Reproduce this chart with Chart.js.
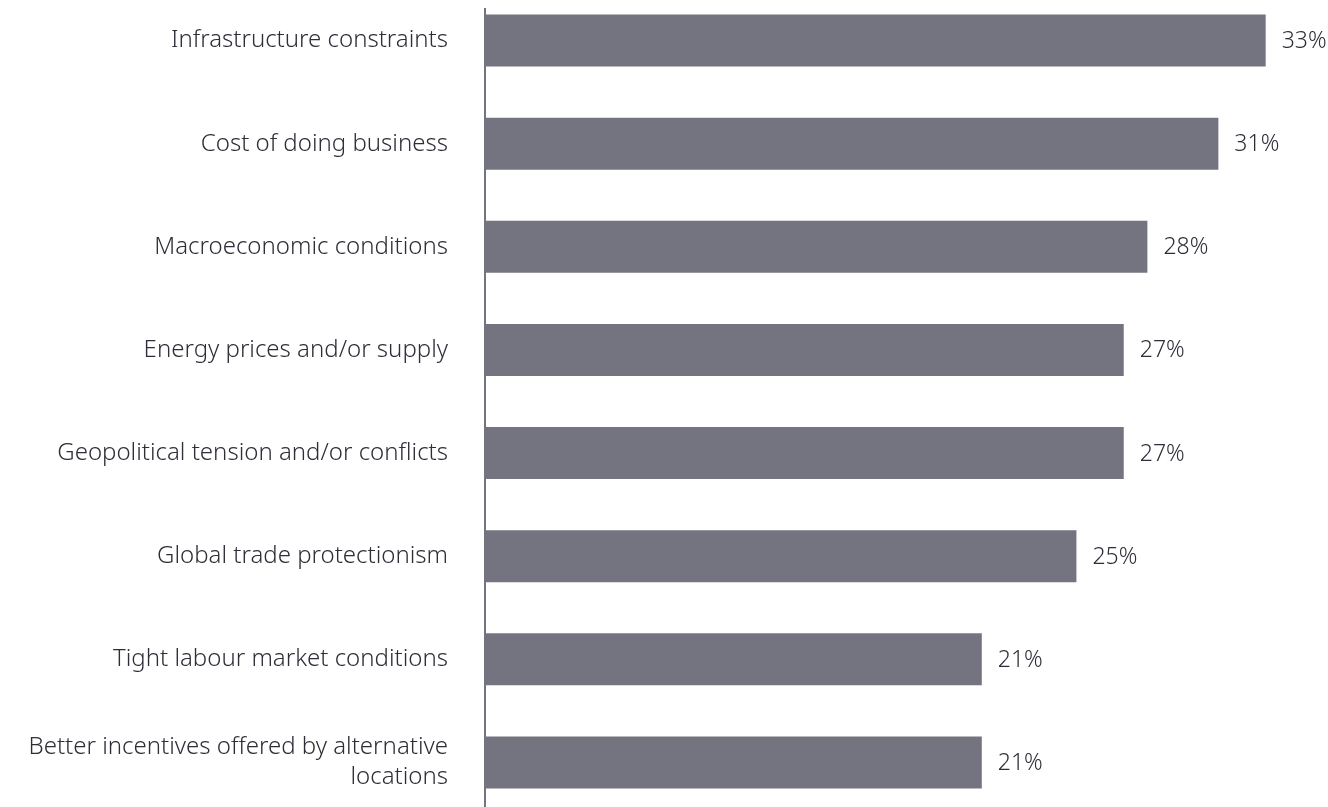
<!DOCTYPE html>
<html>
<head>
<meta charset="utf-8">
<script src="https://cdn.jsdelivr.net/npm/chart.js@4"></script>
<style>
  html, body { margin: 0; padding: 0; background: #fff; overflow: hidden; }
  #wrap { position: absolute; left: 0; top: -11px; width: 1328px; height: 825px; }
</style>
</head>
<body>
<div id="wrap"><canvas id="chart"></canvas></div>
<script>
const categories = [
  'Infrastructure constraints',
  'Cost of doing business',
  'Macroeconomic conditions',
  'Energy prices and/or supply',
  'Geopolitical tension and/or conflicts',
  'Global trade protectionism',
  'Tight labour market conditions',
  ['Better incentives offered by alternative', 'locations']
];
const values = [33, 31, 28, 27, 27, 25, 21, 21];

const barColor = '#747480';
const textColor = '#2e2e38';
const fontFamily = '"Noto Sans", sans-serif';

// value labels at the end of each bar
const valueLabels = {
  id: 'valueLabels',
  afterDatasetsDraw(chart) {
    const ctx = chart.ctx;
    const meta = chart.getDatasetMeta(0);
    ctx.save();
    ctx.font = '300 23px ' + fontFamily;
    ctx.fillStyle = textColor;
    ctx.textBaseline = 'middle';
    ctx.textAlign = 'left';
    meta.data.forEach((bar, i) => {
      ctx.fillText(values[i] + '%', bar.x + 16, bar.y + 1);
    });
    ctx.restore();
  }
};

// vertical axis line
const axisLine = {
  id: 'axisLine',
  afterDatasetsDraw(chart) {
    const { ctx, chartArea } = chart;
    ctx.save();
    ctx.strokeStyle = barColor;
    ctx.lineWidth = 2;
    ctx.beginPath();
    ctx.moveTo(chartArea.left, 19);
    ctx.lineTo(chartArea.left, chart.height);
    ctx.stroke();
    ctx.restore();
  }
};

new Chart(document.getElementById('chart'), {
  type: 'bar',
  data: {
    labels: categories,
    datasets: [{
      data: values,
      backgroundColor: barColor,
      borderWidth: 0,
      barPercentage: 1,
      categoryPercentage: 0.505
    }]
  },
  options: {
    indexAxis: 'y',
    responsive: true,
    maintainAspectRatio: false,
    animation: false,
    layout: { padding: { top: 0, right: 15, bottom: 0, left: 0 } },
    plugins: {
      legend: { display: false },
      tooltip: { enabled: false }
    },
    scales: {
      x: {
        display: false,
        min: 0,
        max: 35
      },
      y: {
        grid: { display: false },
        border: { display: false },
        afterFit(scale) {
          scale.width = 485;
          scale.paddingTop = 0;
          scale.paddingBottom = 0;
        },
        ticks: {
          color: textColor,
          padding: 29,
          font: { family: fontFamily, size: 24, weight: '300', lineHeight: 1.25 }
        }
      }
    }
  },
  plugins: [valueLabels, axisLine]
});
</script>
</body>
</html>
